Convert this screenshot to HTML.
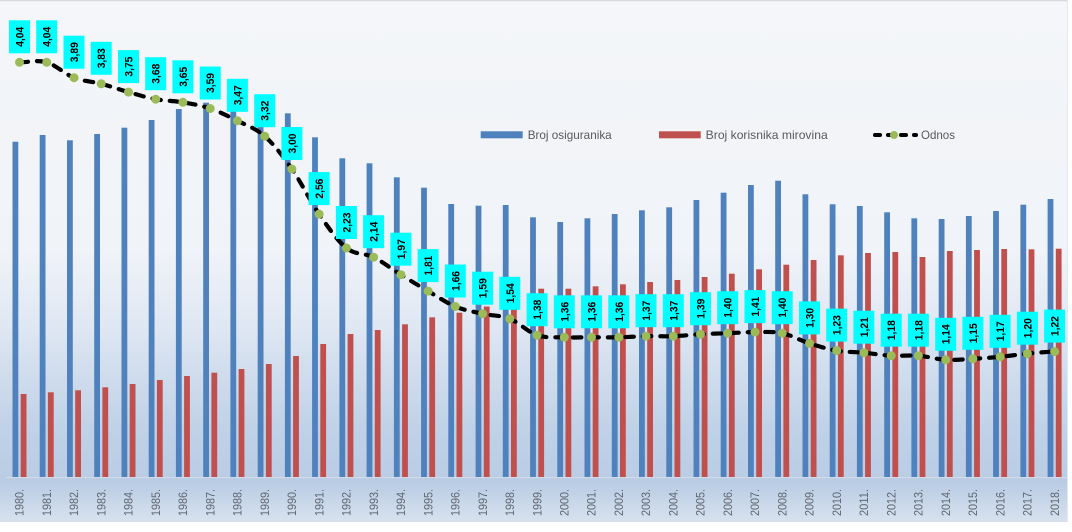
<!DOCTYPE html>
<html><head><meta charset="utf-8"><style>
html,body{margin:0;padding:0;background:#fff;}
svg{display:block;}
.b{fill:#4f81bd}.r{fill:#c0504d}
.xl{font-family:"Liberation Sans",sans-serif;font-size:12px;fill:#5f6670;text-anchor:end}
.lb rect{fill:#00ffff}
.lb text{font-family:"Liberation Sans",sans-serif;font-size:11px;font-weight:bold;fill:#000;text-anchor:middle}
.lg{font-family:"Liberation Sans",sans-serif;font-size:12px;fill:#595959}
</style></head><body>
<svg width="1072" height="532" viewBox="0 0 1072 532" xmlns="http://www.w3.org/2000/svg">
<defs>
<linearGradient id="bg" x1="0" y1="0" x2="0" y2="1">
<stop offset="0" stop-color="#f4f6f9"/>
<stop offset="0.48" stop-color="#f0f3f8"/>
<stop offset="0.62" stop-color="#e0e8f3"/>
<stop offset="0.72" stop-color="#cfdcec"/>
<stop offset="0.83" stop-color="#bfd1e7"/>
<stop offset="0.915" stop-color="#bbcde5"/>
<stop offset="0.925" stop-color="#b9cce4"/>
<stop offset="1" stop-color="#d8e2ee"/>
</linearGradient>
</defs>
<rect x="0" y="0" width="1072" height="532" fill="#ffffff"/>
<rect x="0" y="0" width="1068" height="522" fill="url(#bg)"/>
<line x1="0" y1="0.5" x2="1068" y2="0.5" stroke="#d6d9de" stroke-width="1.5"/>
<line x1="1067.5" y1="0" x2="1067.5" y2="522" stroke="#e4e8ee" stroke-width="1"/>
<line x1="6" y1="477.5" x2="1068" y2="477.5" stroke="#d3dbe6" stroke-width="1"/>

<g transform="translate(19.5,0)"><rect class="b" x="-7" y="141.7" width="5.8" height="335.3"/><rect class="r" x="1.2" y="394" width="5.8" height="83"/><text class="xl" transform="translate(4.2,489) rotate(-90)" textLength="27" lengthAdjust="spacingAndGlyphs">1980.</text></g>
<g transform="translate(46.7,0)"><rect class="b" x="-7" y="135" width="5.8" height="342"/><rect class="r" x="1.2" y="392.3" width="5.8" height="84.7"/><text class="xl" transform="translate(4.2,489) rotate(-90)" textLength="27" lengthAdjust="spacingAndGlyphs">1981.</text></g>
<g transform="translate(74.0,0)"><rect class="b" x="-7" y="140.3" width="5.8" height="336.7"/><rect class="r" x="1.2" y="390.3" width="5.8" height="86.7"/><text class="xl" transform="translate(4.2,489) rotate(-90)" textLength="27" lengthAdjust="spacingAndGlyphs">1982.</text></g>
<g transform="translate(101.2,0)"><rect class="b" x="-7" y="134" width="5.8" height="343"/><rect class="r" x="1.2" y="387.3" width="5.8" height="89.7"/><text class="xl" transform="translate(4.2,489) rotate(-90)" textLength="27" lengthAdjust="spacingAndGlyphs">1983.</text></g>
<g transform="translate(128.5,0)"><rect class="b" x="-7" y="127.7" width="5.8" height="349.3"/><rect class="r" x="1.2" y="384" width="5.8" height="93"/><text class="xl" transform="translate(4.2,489) rotate(-90)" textLength="27" lengthAdjust="spacingAndGlyphs">1984.</text></g>
<g transform="translate(155.7,0)"><rect class="b" x="-7" y="120" width="5.8" height="357"/><rect class="r" x="1.2" y="380" width="5.8" height="97"/><text class="xl" transform="translate(4.2,489) rotate(-90)" textLength="27" lengthAdjust="spacingAndGlyphs">1985.</text></g>
<g transform="translate(182.9,0)"><rect class="b" x="-7" y="109" width="5.8" height="368"/><rect class="r" x="1.2" y="376" width="5.8" height="101"/><text class="xl" transform="translate(4.2,489) rotate(-90)" textLength="27" lengthAdjust="spacingAndGlyphs">1986.</text></g>
<g transform="translate(210.2,0)"><rect class="b" x="-7" y="102.7" width="5.8" height="374.3"/><rect class="r" x="1.2" y="372.7" width="5.8" height="104.3"/><text class="xl" transform="translate(4.2,489) rotate(-90)" textLength="27" lengthAdjust="spacingAndGlyphs">1987.</text></g>
<g transform="translate(237.4,0)"><rect class="b" x="-7" y="102" width="5.8" height="375"/><rect class="r" x="1.2" y="369" width="5.8" height="108"/><text class="xl" transform="translate(4.2,489) rotate(-90)" textLength="27" lengthAdjust="spacingAndGlyphs">1988.</text></g>
<g transform="translate(264.7,0)"><rect class="b" x="-7" y="102" width="5.8" height="375"/><rect class="r" x="1.2" y="364" width="5.8" height="113"/><text class="xl" transform="translate(4.2,489) rotate(-90)" textLength="27" lengthAdjust="spacingAndGlyphs">1989.</text></g>
<g transform="translate(291.9,0)"><rect class="b" x="-7" y="113.3" width="5.8" height="363.7"/><rect class="r" x="1.2" y="356" width="5.8" height="121"/><text class="xl" transform="translate(4.2,489) rotate(-90)" textLength="27" lengthAdjust="spacingAndGlyphs">1990.</text></g>
<g transform="translate(319.1,0)"><rect class="b" x="-7" y="137.3" width="5.8" height="339.7"/><rect class="r" x="1.2" y="344" width="5.8" height="133"/><text class="xl" transform="translate(4.2,489) rotate(-90)" textLength="27" lengthAdjust="spacingAndGlyphs">1991.</text></g>
<g transform="translate(346.4,0)"><rect class="b" x="-7" y="158.3" width="5.8" height="318.7"/><rect class="r" x="1.2" y="334" width="5.8" height="143"/><text class="xl" transform="translate(4.2,489) rotate(-90)" textLength="27" lengthAdjust="spacingAndGlyphs">1992.</text></g>
<g transform="translate(373.6,0)"><rect class="b" x="-7" y="163.3" width="5.8" height="313.7"/><rect class="r" x="1.2" y="330" width="5.8" height="147"/><text class="xl" transform="translate(4.2,489) rotate(-90)" textLength="27" lengthAdjust="spacingAndGlyphs">1993.</text></g>
<g transform="translate(400.9,0)"><rect class="b" x="-7" y="177.3" width="5.8" height="299.7"/><rect class="r" x="1.2" y="324.3" width="5.8" height="152.7"/><text class="xl" transform="translate(4.2,489) rotate(-90)" textLength="27" lengthAdjust="spacingAndGlyphs">1994.</text></g>
<g transform="translate(428.1,0)"><rect class="b" x="-7" y="187.7" width="5.8" height="289.3"/><rect class="r" x="1.2" y="317.3" width="5.8" height="159.7"/><text class="xl" transform="translate(4.2,489) rotate(-90)" textLength="27" lengthAdjust="spacingAndGlyphs">1995.</text></g>
<g transform="translate(455.3,0)"><rect class="b" x="-7" y="204" width="5.8" height="273"/><rect class="r" x="1.2" y="312.7" width="5.8" height="164.3"/><text class="xl" transform="translate(4.2,489) rotate(-90)" textLength="27" lengthAdjust="spacingAndGlyphs">1996.</text></g>
<g transform="translate(482.6,0)"><rect class="b" x="-7" y="205.7" width="5.8" height="271.3"/><rect class="r" x="1.2" y="306.5" width="5.8" height="170.5"/><text class="xl" transform="translate(4.2,489) rotate(-90)" textLength="27" lengthAdjust="spacingAndGlyphs">1997.</text></g>
<g transform="translate(509.8,0)"><rect class="b" x="-7" y="205" width="5.8" height="272"/><rect class="r" x="1.2" y="309" width="5.8" height="168"/><text class="xl" transform="translate(4.2,489) rotate(-90)" textLength="27" lengthAdjust="spacingAndGlyphs">1998.</text></g>
<g transform="translate(537.1,0)"><rect class="b" x="-7" y="217.3" width="5.8" height="259.7"/><rect class="r" x="1.2" y="288.7" width="5.8" height="188.3"/><text class="xl" transform="translate(4.2,489) rotate(-90)" textLength="27" lengthAdjust="spacingAndGlyphs">1999.</text></g>
<g transform="translate(564.3,0)"><rect class="b" x="-7" y="222" width="5.8" height="255"/><rect class="r" x="1.2" y="288.7" width="5.8" height="188.3"/><text class="xl" transform="translate(4.2,489) rotate(-90)" textLength="27" lengthAdjust="spacingAndGlyphs">2000.</text></g>
<g transform="translate(591.5,0)"><rect class="b" x="-7" y="218.3" width="5.8" height="258.7"/><rect class="r" x="1.2" y="286.3" width="5.8" height="190.7"/><text class="xl" transform="translate(4.2,489) rotate(-90)" textLength="27" lengthAdjust="spacingAndGlyphs">2001.</text></g>
<g transform="translate(618.8,0)"><rect class="b" x="-7" y="214" width="5.8" height="263"/><rect class="r" x="1.2" y="284.3" width="5.8" height="192.7"/><text class="xl" transform="translate(4.2,489) rotate(-90)" textLength="27" lengthAdjust="spacingAndGlyphs">2002.</text></g>
<g transform="translate(646.0,0)"><rect class="b" x="-7" y="210.3" width="5.8" height="266.7"/><rect class="r" x="1.2" y="282" width="5.8" height="195"/><text class="xl" transform="translate(4.2,489) rotate(-90)" textLength="27" lengthAdjust="spacingAndGlyphs">2003.</text></g>
<g transform="translate(673.3,0)"><rect class="b" x="-7" y="207.3" width="5.8" height="269.7"/><rect class="r" x="1.2" y="280" width="5.8" height="197"/><text class="xl" transform="translate(4.2,489) rotate(-90)" textLength="27" lengthAdjust="spacingAndGlyphs">2004.</text></g>
<g transform="translate(700.5,0)"><rect class="b" x="-7" y="200" width="5.8" height="277"/><rect class="r" x="1.2" y="277" width="5.8" height="200"/><text class="xl" transform="translate(4.2,489) rotate(-90)" textLength="27" lengthAdjust="spacingAndGlyphs">2005.</text></g>
<g transform="translate(727.7,0)"><rect class="b" x="-7" y="192.7" width="5.8" height="284.3"/><rect class="r" x="1.2" y="273.7" width="5.8" height="203.3"/><text class="xl" transform="translate(4.2,489) rotate(-90)" textLength="27" lengthAdjust="spacingAndGlyphs">2006.</text></g>
<g transform="translate(755.0,0)"><rect class="b" x="-7" y="185" width="5.8" height="292"/><rect class="r" x="1.2" y="269.3" width="5.8" height="207.7"/><text class="xl" transform="translate(4.2,489) rotate(-90)" textLength="27" lengthAdjust="spacingAndGlyphs">2007.</text></g>
<g transform="translate(782.2,0)"><rect class="b" x="-7" y="180.7" width="5.8" height="296.3"/><rect class="r" x="1.2" y="264.7" width="5.8" height="212.3"/><text class="xl" transform="translate(4.2,489) rotate(-90)" textLength="27" lengthAdjust="spacingAndGlyphs">2008.</text></g>
<g transform="translate(809.5,0)"><rect class="b" x="-7" y="194.3" width="5.8" height="282.7"/><rect class="r" x="1.2" y="260" width="5.8" height="217"/><text class="xl" transform="translate(4.2,489) rotate(-90)" textLength="27" lengthAdjust="spacingAndGlyphs">2009.</text></g>
<g transform="translate(836.7,0)"><rect class="b" x="-7" y="204.3" width="5.8" height="272.7"/><rect class="r" x="1.2" y="255.3" width="5.8" height="221.7"/><text class="xl" transform="translate(4.2,489) rotate(-90)" textLength="27" lengthAdjust="spacingAndGlyphs">2010.</text></g>
<g transform="translate(863.9,0)"><rect class="b" x="-7" y="206" width="5.8" height="271"/><rect class="r" x="1.2" y="253" width="5.8" height="224"/><text class="xl" transform="translate(4.2,489) rotate(-90)" textLength="27" lengthAdjust="spacingAndGlyphs">2011.</text></g>
<g transform="translate(891.2,0)"><rect class="b" x="-7" y="212.3" width="5.8" height="264.7"/><rect class="r" x="1.2" y="252" width="5.8" height="225"/><text class="xl" transform="translate(4.2,489) rotate(-90)" textLength="27" lengthAdjust="spacingAndGlyphs">2012.</text></g>
<g transform="translate(918.4,0)"><rect class="b" x="-7" y="218.3" width="5.8" height="258.7"/><rect class="r" x="1.2" y="257" width="5.8" height="220"/><text class="xl" transform="translate(4.2,489) rotate(-90)" textLength="27" lengthAdjust="spacingAndGlyphs">2013.</text></g>
<g transform="translate(945.7,0)"><rect class="b" x="-7" y="219" width="5.8" height="258"/><rect class="r" x="1.2" y="251" width="5.8" height="226"/><text class="xl" transform="translate(4.2,489) rotate(-90)" textLength="27" lengthAdjust="spacingAndGlyphs">2014.</text></g>
<g transform="translate(972.9,0)"><rect class="b" x="-7" y="216" width="5.8" height="261"/><rect class="r" x="1.2" y="250" width="5.8" height="227"/><text class="xl" transform="translate(4.2,489) rotate(-90)" textLength="27" lengthAdjust="spacingAndGlyphs">2015.</text></g>
<g transform="translate(1000.1,0)"><rect class="b" x="-7" y="211" width="5.8" height="266"/><rect class="r" x="1.2" y="249" width="5.8" height="228"/><text class="xl" transform="translate(4.2,489) rotate(-90)" textLength="27" lengthAdjust="spacingAndGlyphs">2016.</text></g>
<g transform="translate(1027.4,0)"><rect class="b" x="-7" y="204.7" width="5.8" height="272.3"/><rect class="r" x="1.2" y="249.3" width="5.8" height="227.7"/><text class="xl" transform="translate(4.2,489) rotate(-90)" textLength="27" lengthAdjust="spacingAndGlyphs">2017.</text></g>
<g transform="translate(1054.6,0)"><rect class="b" x="-7" y="199" width="5.8" height="278"/><rect class="r" x="1.2" y="248.7" width="5.8" height="228.3"/><text class="xl" transform="translate(4.2,489) rotate(-90)" textLength="27" lengthAdjust="spacingAndGlyphs">2018.</text></g>

<path d="M19.5,62.3 C28.6,62.3 37.6,59.7 46.7,62.3 C55.8,64.9 64.9,74.1 74.0,77.7 C83.1,81.3 92.1,81.4 101.2,83.8 C110.3,86.2 119.4,89.5 128.5,92.1 C137.6,94.7 146.6,97.5 155.7,99.2 C164.8,100.9 173.8,100.8 182.9,102.3 C192.0,103.9 201.1,105.4 210.2,108.5 C219.3,111.6 228.3,116.2 237.4,120.8 C246.5,125.4 255.6,128.2 264.7,136.2 C273.8,144.2 282.8,156.0 291.9,169.0 C301.0,182.0 310.0,200.9 319.1,214.1 C328.2,227.3 337.3,240.8 346.4,248.0 C355.5,255.2 364.5,252.8 373.6,257.2 C382.7,261.7 391.8,269.1 400.9,274.7 C410.0,280.4 419.0,285.8 428.1,291.1 C437.2,296.4 446.2,302.7 455.3,306.5 C464.4,310.3 473.5,311.7 482.6,313.7 C491.7,315.8 500.7,315.2 509.8,318.8 C518.9,322.4 528.0,332.1 537.1,335.2 C546.2,338.3 555.2,337.0 564.3,337.3 C573.4,337.7 582.4,337.3 591.5,337.3 C600.6,337.3 609.7,337.5 618.8,337.3 C627.9,337.1 636.9,336.4 646.0,336.2 C655.1,336.0 664.2,336.5 673.3,336.2 C682.4,335.9 691.4,334.7 700.5,334.2 C709.6,333.7 718.6,333.6 727.7,333.2 C736.8,332.9 745.9,332.1 755.0,332.1 C764.1,332.1 773.1,331.3 782.2,333.2 C791.3,335.1 800.4,340.5 809.5,343.4 C818.6,346.3 827.6,349.1 836.7,350.6 C845.8,352.2 854.8,351.9 863.9,352.7 C873.0,353.6 882.1,355.2 891.2,355.7 C900.3,356.2 909.3,355.0 918.4,355.7 C927.5,356.4 936.6,359.3 945.7,359.8 C954.8,360.3 963.8,359.3 972.9,358.8 C982.0,358.3 991.0,357.7 1000.1,356.8 C1009.2,355.9 1018.3,354.6 1027.4,353.7 C1036.5,352.8 1045.5,351.9 1054.6,351.6" fill="none" stroke="#000" stroke-width="4.2" stroke-dasharray="8.5 9" stroke-linecap="round"/>

<g fill="#9bbb59">
<circle cx="19.5" cy="62.3" r="4.5"/><circle cx="46.7" cy="62.3" r="4.5"/><circle cx="74.0" cy="77.7" r="4.5"/><circle cx="101.2" cy="83.8" r="4.5"/><circle cx="128.5" cy="92.1" r="4.5"/><circle cx="155.7" cy="99.2" r="4.5"/><circle cx="182.9" cy="102.3" r="4.5"/><circle cx="210.2" cy="108.5" r="4.5"/><circle cx="237.4" cy="120.8" r="4.5"/><circle cx="264.7" cy="136.2" r="4.5"/><circle cx="291.9" cy="169.0" r="4.5"/><circle cx="319.1" cy="214.1" r="4.5"/><circle cx="346.4" cy="248.0" r="4.5"/><circle cx="373.6" cy="257.2" r="4.5"/><circle cx="400.9" cy="274.7" r="4.5"/><circle cx="428.1" cy="291.1" r="4.5"/><circle cx="455.3" cy="306.5" r="4.5"/><circle cx="482.6" cy="313.7" r="4.5"/><circle cx="509.8" cy="318.8" r="4.5"/><circle cx="537.1" cy="335.2" r="4.5"/><circle cx="564.3" cy="337.3" r="4.5"/><circle cx="591.5" cy="337.3" r="4.5"/><circle cx="618.8" cy="337.3" r="4.5"/><circle cx="646.0" cy="336.2" r="4.5"/><circle cx="673.3" cy="336.2" r="4.5"/><circle cx="700.5" cy="334.2" r="4.5"/><circle cx="727.7" cy="333.2" r="4.5"/><circle cx="755.0" cy="332.1" r="4.5"/><circle cx="782.2" cy="333.2" r="4.5"/><circle cx="809.5" cy="343.4" r="4.5"/><circle cx="836.7" cy="350.6" r="4.5"/><circle cx="863.9" cy="352.7" r="4.5"/><circle cx="891.2" cy="355.7" r="4.5"/><circle cx="918.4" cy="355.7" r="4.5"/><circle cx="945.7" cy="359.8" r="4.5"/><circle cx="972.9" cy="358.8" r="4.5"/><circle cx="1000.1" cy="356.8" r="4.5"/><circle cx="1027.4" cy="353.7" r="4.5"/><circle cx="1054.6" cy="351.6" r="4.5"/>
</g>

<g class="lb">
<g transform="translate(19.5,62.3)"><rect x="-10.5" y="-42" width="21" height="33"/><text transform="rotate(-90)" x="25.5" y="4" textLength="20" lengthAdjust="spacingAndGlyphs">4,04</text></g>
<g transform="translate(46.7,62.3)"><rect x="-10.5" y="-42" width="21" height="33"/><text transform="rotate(-90)" x="25.5" y="4" textLength="20" lengthAdjust="spacingAndGlyphs">4,04</text></g>
<g transform="translate(74.0,77.7)"><rect x="-10.5" y="-42" width="21" height="33"/><text transform="rotate(-90)" x="25.5" y="4" textLength="20" lengthAdjust="spacingAndGlyphs">3,89</text></g>
<g transform="translate(101.2,83.8)"><rect x="-10.5" y="-42" width="21" height="33"/><text transform="rotate(-90)" x="25.5" y="4" textLength="20" lengthAdjust="spacingAndGlyphs">3,83</text></g>
<g transform="translate(128.5,92.1)"><rect x="-10.5" y="-42" width="21" height="33"/><text transform="rotate(-90)" x="25.5" y="4" textLength="20" lengthAdjust="spacingAndGlyphs">3,75</text></g>
<g transform="translate(155.7,99.2)"><rect x="-10.5" y="-42" width="21" height="33"/><text transform="rotate(-90)" x="25.5" y="4" textLength="20" lengthAdjust="spacingAndGlyphs">3,68</text></g>
<g transform="translate(182.9,102.3)"><rect x="-10.5" y="-42" width="21" height="33"/><text transform="rotate(-90)" x="25.5" y="4" textLength="20" lengthAdjust="spacingAndGlyphs">3,65</text></g>
<g transform="translate(210.2,108.5)"><rect x="-10.5" y="-42" width="21" height="33"/><text transform="rotate(-90)" x="25.5" y="4" textLength="20" lengthAdjust="spacingAndGlyphs">3,59</text></g>
<g transform="translate(237.4,120.8)"><rect x="-10.5" y="-42" width="21" height="33"/><text transform="rotate(-90)" x="25.5" y="4" textLength="20" lengthAdjust="spacingAndGlyphs">3,47</text></g>
<g transform="translate(264.7,136.2)"><rect x="-10.5" y="-42" width="21" height="33"/><text transform="rotate(-90)" x="25.5" y="4" textLength="20" lengthAdjust="spacingAndGlyphs">3,32</text></g>
<g transform="translate(291.9,169.0)"><rect x="-10.5" y="-42" width="21" height="33"/><text transform="rotate(-90)" x="25.5" y="4" textLength="20" lengthAdjust="spacingAndGlyphs">3,00</text></g>
<g transform="translate(319.1,214.1)"><rect x="-10.5" y="-42" width="21" height="33"/><text transform="rotate(-90)" x="25.5" y="4" textLength="20" lengthAdjust="spacingAndGlyphs">2,56</text></g>
<g transform="translate(346.4,248.0)"><rect x="-10.5" y="-42" width="21" height="33"/><text transform="rotate(-90)" x="25.5" y="4" textLength="20" lengthAdjust="spacingAndGlyphs">2,23</text></g>
<g transform="translate(373.6,257.2)"><rect x="-10.5" y="-42" width="21" height="33"/><text transform="rotate(-90)" x="25.5" y="4" textLength="20" lengthAdjust="spacingAndGlyphs">2,14</text></g>
<g transform="translate(400.9,274.7)"><rect x="-10.5" y="-42" width="21" height="33"/><text transform="rotate(-90)" x="25.5" y="4" textLength="20" lengthAdjust="spacingAndGlyphs">1,97</text></g>
<g transform="translate(428.1,291.1)"><rect x="-10.5" y="-42" width="21" height="33"/><text transform="rotate(-90)" x="25.5" y="4" textLength="20" lengthAdjust="spacingAndGlyphs">1,81</text></g>
<g transform="translate(455.3,306.5)"><rect x="-10.5" y="-42" width="21" height="33"/><text transform="rotate(-90)" x="25.5" y="4" textLength="20" lengthAdjust="spacingAndGlyphs">1,66</text></g>
<g transform="translate(482.6,313.7)"><rect x="-10.5" y="-42" width="21" height="33"/><text transform="rotate(-90)" x="25.5" y="4" textLength="20" lengthAdjust="spacingAndGlyphs">1,59</text></g>
<g transform="translate(509.8,318.8)"><rect x="-10.5" y="-42" width="21" height="33"/><text transform="rotate(-90)" x="25.5" y="4" textLength="20" lengthAdjust="spacingAndGlyphs">1,54</text></g>
<g transform="translate(537.1,335.2)"><rect x="-10.5" y="-42" width="21" height="33"/><text transform="rotate(-90)" x="25.5" y="4" textLength="20" lengthAdjust="spacingAndGlyphs">1,38</text></g>
<g transform="translate(564.3,337.3)"><rect x="-10.5" y="-42" width="21" height="33"/><text transform="rotate(-90)" x="25.5" y="4" textLength="20" lengthAdjust="spacingAndGlyphs">1,36</text></g>
<g transform="translate(591.5,337.3)"><rect x="-10.5" y="-42" width="21" height="33"/><text transform="rotate(-90)" x="25.5" y="4" textLength="20" lengthAdjust="spacingAndGlyphs">1,36</text></g>
<g transform="translate(618.8,337.3)"><rect x="-10.5" y="-42" width="21" height="33"/><text transform="rotate(-90)" x="25.5" y="4" textLength="20" lengthAdjust="spacingAndGlyphs">1,36</text></g>
<g transform="translate(646.0,336.2)"><rect x="-10.5" y="-42" width="21" height="33"/><text transform="rotate(-90)" x="25.5" y="4" textLength="20" lengthAdjust="spacingAndGlyphs">1,37</text></g>
<g transform="translate(673.3,336.2)"><rect x="-10.5" y="-42" width="21" height="33"/><text transform="rotate(-90)" x="25.5" y="4" textLength="20" lengthAdjust="spacingAndGlyphs">1,37</text></g>
<g transform="translate(700.5,334.2)"><rect x="-10.5" y="-42" width="21" height="33"/><text transform="rotate(-90)" x="25.5" y="4" textLength="20" lengthAdjust="spacingAndGlyphs">1,39</text></g>
<g transform="translate(727.7,333.2)"><rect x="-10.5" y="-42" width="21" height="33"/><text transform="rotate(-90)" x="25.5" y="4" textLength="20" lengthAdjust="spacingAndGlyphs">1,40</text></g>
<g transform="translate(755.0,332.1)"><rect x="-10.5" y="-42" width="21" height="33"/><text transform="rotate(-90)" x="25.5" y="4" textLength="20" lengthAdjust="spacingAndGlyphs">1,41</text></g>
<g transform="translate(782.2,333.2)"><rect x="-10.5" y="-42" width="21" height="33"/><text transform="rotate(-90)" x="25.5" y="4" textLength="20" lengthAdjust="spacingAndGlyphs">1,40</text></g>
<g transform="translate(809.5,343.4)"><rect x="-10.5" y="-42" width="21" height="33"/><text transform="rotate(-90)" x="25.5" y="4" textLength="20" lengthAdjust="spacingAndGlyphs">1,30</text></g>
<g transform="translate(836.7,350.6)"><rect x="-10.5" y="-42" width="21" height="33"/><text transform="rotate(-90)" x="25.5" y="4" textLength="20" lengthAdjust="spacingAndGlyphs">1,23</text></g>
<g transform="translate(863.9,352.7)"><rect x="-10.5" y="-42" width="21" height="33"/><text transform="rotate(-90)" x="25.5" y="4" textLength="20" lengthAdjust="spacingAndGlyphs">1,21</text></g>
<g transform="translate(891.2,355.7)"><rect x="-10.5" y="-42" width="21" height="33"/><text transform="rotate(-90)" x="25.5" y="4" textLength="20" lengthAdjust="spacingAndGlyphs">1,18</text></g>
<g transform="translate(918.4,355.7)"><rect x="-10.5" y="-42" width="21" height="33"/><text transform="rotate(-90)" x="25.5" y="4" textLength="20" lengthAdjust="spacingAndGlyphs">1,18</text></g>
<g transform="translate(945.7,359.8)"><rect x="-10.5" y="-42" width="21" height="33"/><text transform="rotate(-90)" x="25.5" y="4" textLength="20" lengthAdjust="spacingAndGlyphs">1,14</text></g>
<g transform="translate(972.9,358.8)"><rect x="-10.5" y="-42" width="21" height="33"/><text transform="rotate(-90)" x="25.5" y="4" textLength="20" lengthAdjust="spacingAndGlyphs">1,15</text></g>
<g transform="translate(1000.1,356.8)"><rect x="-10.5" y="-42" width="21" height="33"/><text transform="rotate(-90)" x="25.5" y="4" textLength="20" lengthAdjust="spacingAndGlyphs">1,17</text></g>
<g transform="translate(1027.4,353.7)"><rect x="-10.5" y="-42" width="21" height="33"/><text transform="rotate(-90)" x="25.5" y="4" textLength="20" lengthAdjust="spacingAndGlyphs">1,20</text></g>
<g transform="translate(1054.6,351.6)"><rect x="-10.5" y="-42" width="21" height="33"/><text transform="rotate(-90)" x="25.5" y="4" textLength="20" lengthAdjust="spacingAndGlyphs">1,22</text></g>
</g>

<rect x="480.7" y="131.3" width="42" height="7" fill="#4f81bd"/>
<text class="lg" x="527.7" y="138.8" textLength="84" lengthAdjust="spacingAndGlyphs">Broj osiguranika</text>
<rect x="659" y="131.3" width="41.7" height="7" fill="#c0504d"/>
<text class="lg" x="705.7" y="138.8" textLength="122" lengthAdjust="spacingAndGlyphs">Broj korisnika mirovina</text>
<line x1="875" y1="135" x2="916" y2="135" stroke="#000" stroke-width="4" stroke-dasharray="5 8" stroke-linecap="round"/>
<circle cx="894" cy="135" r="4" fill="#9bbb59"/>
<text class="lg" x="921" y="138.8" textLength="34" lengthAdjust="spacingAndGlyphs">Odnos</text>
</svg>
</body></html>
